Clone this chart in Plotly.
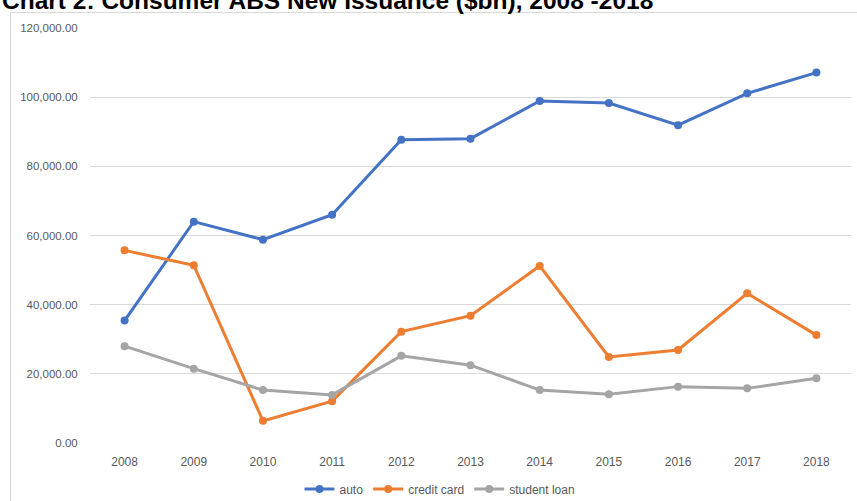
import plotly.graph_objects as go

years = ["2008", "2009", "2010", "2011", "2012", "2013", "2014", "2015", "2016", "2017", "2018"]
auto = [35400, 64000, 58800, 66000, 87700, 88000, 98900, 98300, 91900, 101100, 107100]
credit_card = [55700, 51400, 6400, 12100, 32200, 36800, 51200, 24900, 26900, 43300, 31200]
student_loan = [28000, 21500, 15300, 13900, 25200, 22500, 15300, 14100, 16300, 15800, 18700]
y_ticks = [0, 20000, 40000, 60000, 80000, 100000, 120000]

series = [("auto", auto, "#4472C4"), ("credit card", credit_card, "#ED7D31"), ("student loan", student_loan, "#A5A5A5")]

fig = go.Figure()
for name, vals, col in series:
    fig.add_trace(go.Scatter(x=years, y=vals, name=name, mode="lines+markers",
                             line=dict(color=col, width=3), marker=dict(color=col, size=8)))

W, H = 857, 501
ml, mr, mt, mb = 90, 6, 28, 58
pw, ph = W - ml - mr, H - mt - mb

def px(x):
    return (x - ml) / pw

def py(y):
    return (H - mb - y) / ph

fig.update_layout(
    width=W, height=H,
    margin=dict(l=ml, r=mr, t=mt, b=mb, autoexpand=False),
    paper_bgcolor="white", plot_bgcolor="white",
    font=dict(family="Liberation Sans, Arial, sans-serif", color="#595959", size=12),
    showlegend=True,
    legend=dict(orientation="h", x=px(440), xanchor="center", y=py(489), yanchor="middle",
                font=dict(size=12, color="#595959"), itemwidth=30, tracegroupgap=0),
    xaxis=dict(type="category", showgrid=False, showline=False, zeroline=False,
               ticks="outside", ticklen=8, tickcolor="rgba(0,0,0,0)",
               tickfont=dict(size=12, color="#595959"), range=[-0.5, 10.5]),
    yaxis=dict(range=[0, 120000], tickvals=y_ticks, tickformat=",.2f",
               showgrid=True, gridcolor="#D9D9D9", gridwidth=1, zeroline=False, showline=False,
               ticks="outside", ticklen=9, tickcolor="rgba(0,0,0,0)",
               tickfont=dict(size=11.5, color="#595959")),
    shapes=[dict(type="rect", xref="paper", yref="paper",
                 x0=px(10.5), x1=px(870), y0=py(520), y1=py(12.5),
                 line=dict(color="#D9D9D9", width=1), fillcolor="rgba(0,0,0,0)", layer="below")],
    annotations=[dict(text="<b>Chart 2: Consumer ABS New Issuance ($bn), 2008 -2018</b>",
                      xref="paper", yref="paper", x=px(0), xanchor="left",
                      y=py(1), yanchor="middle", showarrow=False,
                      font=dict(family="Liberation Sans, Arial, sans-serif", size=24.5, color="black"))],
)

fig.write_html("out.html")
